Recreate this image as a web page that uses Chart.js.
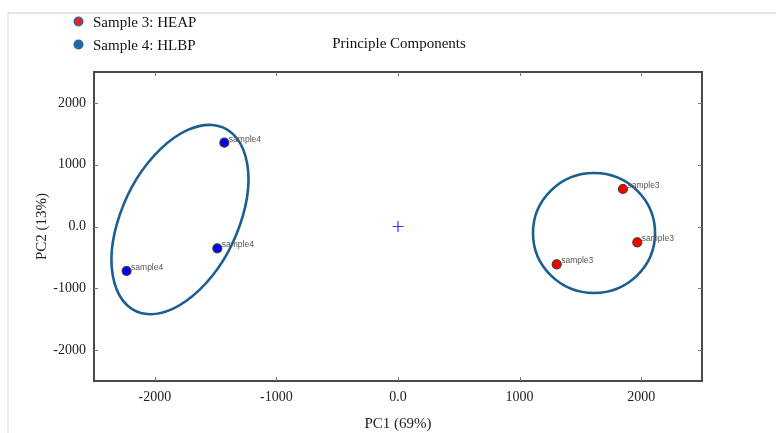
<!DOCTYPE html>
<html>
<head>
<meta charset="utf-8">
<script src="https://cdn.jsdelivr.net/npm/chart.js@4.4.1/dist/chart.umd.min.js"></script>
<style>
  html, body { margin: 0; padding: 0; background: #fff; }
  #wrap { position: relative; width: 776px; height: 433px; overflow: hidden; }
  #frame { position: absolute; left: 7px; top: 12px; width: 800px; height: 500px;
           border-top: 2px solid #e1e6ea; border-left: 2px solid #e8ecef; }
  #legend { position: absolute; left: 74px; top: 12px; font: 15px "Liberation Serif", serif; color: #111; }
  #legend div { height: 23px; line-height: 21px; position: relative; padding-left: 19px; }
  #legend span { position: absolute; left: 1px; top: 6px; width: 7px; height: 7px; border-radius: 50%; }
</style>
</head>
<body>
<div id="wrap">
  <div id="frame"></div>
  <canvas id="myCanvas" width="776" height="433"></canvas>
  <div id="legend"></div>
</div>
<script>
// sample scores (PC1, PC2)
const sample3X = [1850, 1968, 1305];
const sample3Y = [607, -256, -612];
const sample4X = [-1428, -1486, -2232];
const sample4Y = [1356, -353, -720];
const pointNames = ["sample3", "sample4"];

// confidence ellipses: centre, semi axes, rotation (data units, degrees)
const ellipseCx = [-1793, 1612];
const ellipseCy = [113, -105];
const ellipseA = [1553, 502];
const ellipseB = [501, 971];
const ellipseAngle = [80, 0];

const xTicks = [-2000, -1000, 0, 1000, 2000];
const xTickLabels = ["-2000", "-1000", "0.0", "1000", "2000"];
const yTicks = [2000, 1000, 0, -1000, -2000];
const yTickLabels = ["2000", "1000", "0.0", "-1000", "-2000"];

const legendLabels = ["Sample 3: HEAP", "Sample 4: HLBP"];
const chartTitle = "Principle Components";

const serif = '"Liberation Serif", "Times New Roman", serif';

const legendEl = document.getElementById("legend");
legendEl.innerHTML =
  '<div><span style="background:#ff1a1a;box-shadow:0 0 0 1.5px #1f6aa5"></span>' + legendLabels[0] + '</div>' +
  '<div><span style="background:#1f6aa5;box-shadow:0 0 0 1.5px #1f6aa5"></span>' + legendLabels[1] + '</div>';

const decor = {
  id: "decor",
  beforeDatasetsDraw(chart) {
    const {ctx, scales: {x, y}} = chart;
    const sx = x.getPixelForValue(1) - x.getPixelForValue(0);
    const sy = y.getPixelForValue(0) - y.getPixelForValue(1);
    ctx.save();
    for (let i = 0; i < ellipseCx.length; i++) {
      ctx.save();
      ctx.translate(x.getPixelForValue(ellipseCx[i]), y.getPixelForValue(ellipseCy[i]));
      ctx.scale(sx, -sy);
      ctx.beginPath();
      ctx.ellipse(0, 0, ellipseA[i], ellipseB[i], ellipseAngle[i] * Math.PI / 180, 0, 2 * Math.PI);
      ctx.restore();
      ctx.lineWidth = 2.6;
      ctx.strokeStyle = "#1b5e92";
      ctx.stroke();
    }
    ctx.restore();
  },
  afterDatasetsDraw(chart) {
    const {ctx} = chart;
    ctx.save();
    ctx.font = '8.5px "Liberation Sans", Arial, sans-serif';
    ctx.fillStyle = "#555";
    ctx.textBaseline = "middle";
    [0, 1].forEach(d => {
      chart.getDatasetMeta(d).data.forEach(p => {
        ctx.fillText(pointNames[d], p.x + 4.5, p.y - 3.5);
      });
    });
    ctx.restore();
  },
  afterDraw(chart) {
    const {ctx, chartArea: a, scales: {x, y}} = chart;
    ctx.save();
    // box
    ctx.strokeStyle = "#4a4a4a";
    ctx.lineWidth = 2;
    ctx.strokeRect(a.left, a.top, a.right - a.left, a.bottom - a.top);
    // inner tick marks
    ctx.lineWidth = 1;
    ctx.strokeStyle = "#777";
    ctx.beginPath();
    xTicks.forEach(v => {
      const px = Math.round(x.getPixelForValue(v)) + 0.5;
      ctx.moveTo(px, a.bottom); ctx.lineTo(px, a.bottom - 4);
      ctx.moveTo(px, a.top); ctx.lineTo(px, a.top + 4);
    });
    yTicks.forEach(v => {
      const py = Math.round(y.getPixelForValue(v)) + 0.5;
      ctx.moveTo(a.left, py); ctx.lineTo(a.left + 4, py);
      ctx.moveTo(a.right, py); ctx.lineTo(a.right - 4, py);
    });
    ctx.stroke();
    // title
    ctx.font = "15px " + serif;
    ctx.fillStyle = "#111";
    ctx.textAlign = "center";
    ctx.textBaseline = "middle";
    ctx.fillText(chartTitle, (a.left + a.right) / 2 + 1, 44);
    ctx.restore();
  }
};

const toPts = (xs, ys) => xs.map((v, i) => ({x: v, y: ys[i]}));

const ctx = document.getElementById("myCanvas").getContext("2d");
const chart = new Chart(ctx, {
  type: "scatter",
  data: {
    datasets: [{
      label: legendLabels[0],
      data: toPts(sample3X, sample3Y),
      backgroundColor: "#ff0000",
      borderColor: "#3c3c30",
      borderWidth: 1.2,
      pointRadius: 4.5
    },
    {
      label: legendLabels[1],
      data: toPts(sample4X, sample4Y),
      backgroundColor: "#0000ff",
      borderColor: "#3c3c30",
      borderWidth: 1.2,
      pointRadius: 4.5
    },
    {
      label: "origin",
      data: [{x: 0, y: 0}],
      pointStyle: "cross",
      pointRadius: 5.5,
      borderColor: "#3a3aff",
      borderWidth: 1.2
    }]
  },
  options: {
    responsive: false,
    animation: false,
    layout: { padding: { top: 72, right: 74, left: 0, bottom: 0 } },
    scales: {
      x: {
        min: -2500,
        max: 2500,
        afterFit: s => { s.height = 52; },
        afterBuildTicks: s => { s.ticks = xTicks.map(v => ({value: v})); },
        grid: { display: false, drawTicks: false },
        border: { display: false },
        ticks: {
          padding: 8,
          color: "#222",
          font: { family: serif, size: 14 },
          callback: (v) => xTickLabels[xTicks.indexOf(v)]
        },
        title: {
          display: true,
          text: "PC1 (69%)",
          color: "#222",
          font: { family: serif, size: 15 },
          padding: { top: 0, bottom: 0 }
        }
      },
      y: {
        min: -2500,
        max: 2500,
        afterFit: s => { s.width = 94; },
        afterBuildTicks: s => { s.ticks = yTicks.map(v => ({value: v})); },
        grid: { display: false, drawTicks: false },
        border: { display: false },
        ticks: {
          padding: 8,
          color: "#222",
          font: { family: serif, size: 14 },
          callback: (v) => yTickLabels[yTicks.indexOf(v)]
        },
        title: {
          display: true,
          text: "PC2 (13%)",
          color: "#222",
          font: { family: serif, size: 15 },
          padding: { top: 33, bottom: 0 }
        }
      }
    },
    plugins: {
      legend: { display: false },
      tooltip: { enabled: false }
    }
  },
  plugins: [decor]
});
</script>
</body>
</html>
